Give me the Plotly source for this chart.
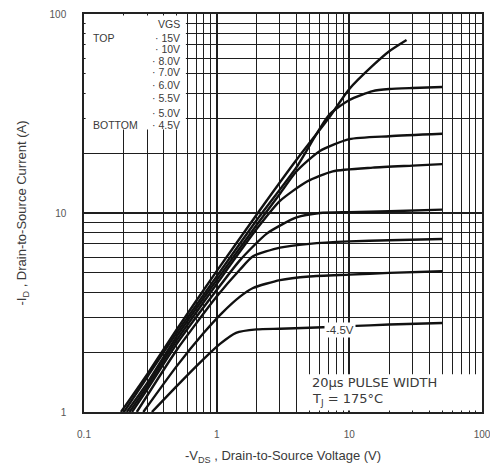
import plotly.graph_objects as go

# ---- data (V_DS in volts, I_D in amps) ----
vgs_labels = ["15V", "10V", "8.0V", "7.0V", "6.0V", "5.5V", "5.0V", "4.5V"]

v_15 = [0.19, 0.3, 0.5, 1.0, 2.0, 4.0, 7.0, 10, 15, 20, 27]
i_15 = [1.0, 1.55, 2.6, 5.1, 9.8, 18.5, 30, 42, 55, 65, 74]

v_10 = [0.2, 0.3, 0.5, 1.0, 2.0, 4.0, 7.0, 10, 15, 20, 30, 50]
i_10 = [1.0, 1.5, 2.5, 4.8, 9.2, 17, 31, 37, 41, 42, 42.5, 43]

v_8 = [0.21, 0.3, 0.5, 1.0, 2.0, 3.0, 4.0, 6.0, 10, 20, 50]
i_8 = [1.0, 1.4, 2.4, 4.6, 8.7, 12.5, 16.2, 20.5, 23.5, 24.3, 25]

v_7 = [0.22, 0.3, 0.5, 1.0, 2.0, 3.0, 4.8, 7.5, 15, 30, 50]
i_7 = [1.0, 1.35, 2.3, 4.4, 8.3, 11.5, 14.4, 16.2, 16.9, 17.3, 17.6]

v_6 = [0.23, 0.3, 0.5, 1.0, 1.5, 2.4, 4.0, 6.0, 10, 20, 50]
i_6 = [1.0, 1.3, 2.2, 4.1, 5.8, 7.9, 9.5, 10, 10.1, 10.2, 10.4]

v_55 = [0.25, 0.5, 1.0, 1.5, 1.88, 3.0, 5.0, 10, 20, 50]
i_55 = [1.0, 2.05, 3.8, 5.2, 6.06, 6.7, 7.0, 7.2, 7.3, 7.4]

v_5 = [0.28, 0.5, 0.8, 1.1, 1.5, 1.88, 3.0, 5.0, 10, 20, 50]
i_5 = [1.0, 1.7, 2.5, 3.15, 3.8, 4.2, 4.6, 4.8, 4.9, 5.0, 5.1]

v_45 = [0.325, 0.5, 0.8, 1.06, 1.4, 2.0, 3.0, 5.0, 10, 20, 50]
i_45 = [1.0, 1.35, 1.85, 2.2, 2.5, 2.6, 2.62, 2.65, 2.7, 2.75, 2.8]

series_v = [v_15, v_10, v_8, v_7, v_6, v_55, v_5, v_45]
series_i = [i_15, i_10, i_8, i_7, i_6, i_55, i_5, i_45]

x_tickvals = [0.1, 1, 10, 100]
x_ticktext = ["0.1", "1", "10", "100"]
y_tickvals = [1, 10, 100]
y_ticktext = ["1", "10", "100"]

TXT = "#3a3a3a"
GRID = "#1e1e1e"
FONT = "Liberation Sans, Arial, sans-serif"
WIDE = "DejaVu Sans, Verdana, sans-serif"

fig = go.Figure()
for name, v, i in zip(vgs_labels, series_v, series_i):
    fig.add_trace(go.Scatter(x=v, y=i, mode="lines", name=name,
                             line=dict(color="#111111", width=2.4, shape="spline", smoothing=0.6),
                             showlegend=False, hoverinfo="skip"))

axis_common = dict(
    type="log", showline=True, linecolor="#222", linewidth=1.5, mirror=True,
    showgrid=True, gridcolor=GRID, gridwidth=1.5, zeroline=False, automargin=False,
    ticks="", tickfont=dict(family=FONT, size=10, color="#555"),
    minor=dict(showgrid=True, gridcolor=GRID, gridwidth=1, dtick="D1", ticks=""),
)

fig.update_xaxes(range=[-1, 2], tickvals=x_tickvals, ticktext=x_ticktext,
                 ticklabelstandoff=12,
                 title=dict(text="-V<sub>DS</sub> , Drain-to-Source Voltage (V)",
                            font=dict(family=FONT, size=13, color=TXT), standoff=12),
                 **axis_common)
fig.update_yaxes(range=[0, 2], tickvals=y_tickvals, ticktext=y_ticktext,
                 ticklabelstandoff=14,
                 title=dict(text="-I<sub>D</sub> , Drain-to-Source Current (A)",
                            font=dict(family=FONT, size=13, color=TXT), standoff=20),
                 **axis_common)

# white boxes covering the grid (legend area and note area)
fig.add_shape(type="rect", xref="paper", yref="paper", x0=0.004, x1=0.256, y0=0.71, y1=0.996,
              fillcolor="white", line=dict(width=0), layer="above")
fig.add_shape(type="rect", xref="paper", yref="paper", x0=0.558, x1=0.996, y0=0.004, y1=0.095,
              fillcolor="white", line=dict(width=0), layer="above")

def px_to_paper_y(py):
    return (412 - py) / 398

leg_rows = [("VGS", 24), ("\u00b7 15V", 38), ("\u00b7 10V", 49), ("\u00b7 8.0V", 61),
            ("\u00b7 7.0V", 72), ("\u00b7 6.0V", 85), ("\u00b7 5.5V", 98),
            ("\u00b7 5.0V", 113), ("\u00b7 4.5V", 125)]
for t, py in leg_rows:
    fig.add_annotation(xref="paper", yref="paper", x=0.246, y=px_to_paper_y(py),
                       text=t, showarrow=False, xanchor="right", yanchor="middle",
                       font=dict(family=FONT, size=10.5, color=TXT))
for t, py in [("TOP", 38), ("BOTTOM", 125)]:
    fig.add_annotation(xref="paper", yref="paper", x=(91 - 84) / 398, y=px_to_paper_y(py),
                       text=t, showarrow=False, xanchor="left", yanchor="middle",
                       font=dict(family=FONT, size=10.5, color=TXT))

# curve label
fig.add_annotation(x=0.93, y=0.412, xref="x", yref="y", text="-4.5V", showarrow=False,
                   bgcolor="white", borderpad=1,
                   font=dict(family=FONT, size=11.5, color=TXT))

# pulse note
fig.add_annotation(xref="paper", yref="paper", x=(310 - 84) / 398, y=px_to_paper_y(382),
                   text="20\u00b5s PULSE WIDTH", showarrow=False, xanchor="left", yanchor="middle",
                   font=dict(family=WIDE, size=13, color=TXT))
fig.add_annotation(xref="paper", yref="paper", x=(310 - 84) / 398, y=px_to_paper_y(399),
                   text="T<sub>J</sub> = 175\u00b0C", showarrow=False, xanchor="left", yanchor="middle",
                   font=dict(family=WIDE, size=13, color=TXT))

# page body has an 8px default margin, so the figure is sized/offset to compensate
fig.update_layout(width=490, height=468, margin=dict(l=76, r=16, t=6, b=64),
                  paper_bgcolor="white", plot_bgcolor="white",
                  font=dict(family=FONT, color=TXT))

fig.write_html("out.html")
